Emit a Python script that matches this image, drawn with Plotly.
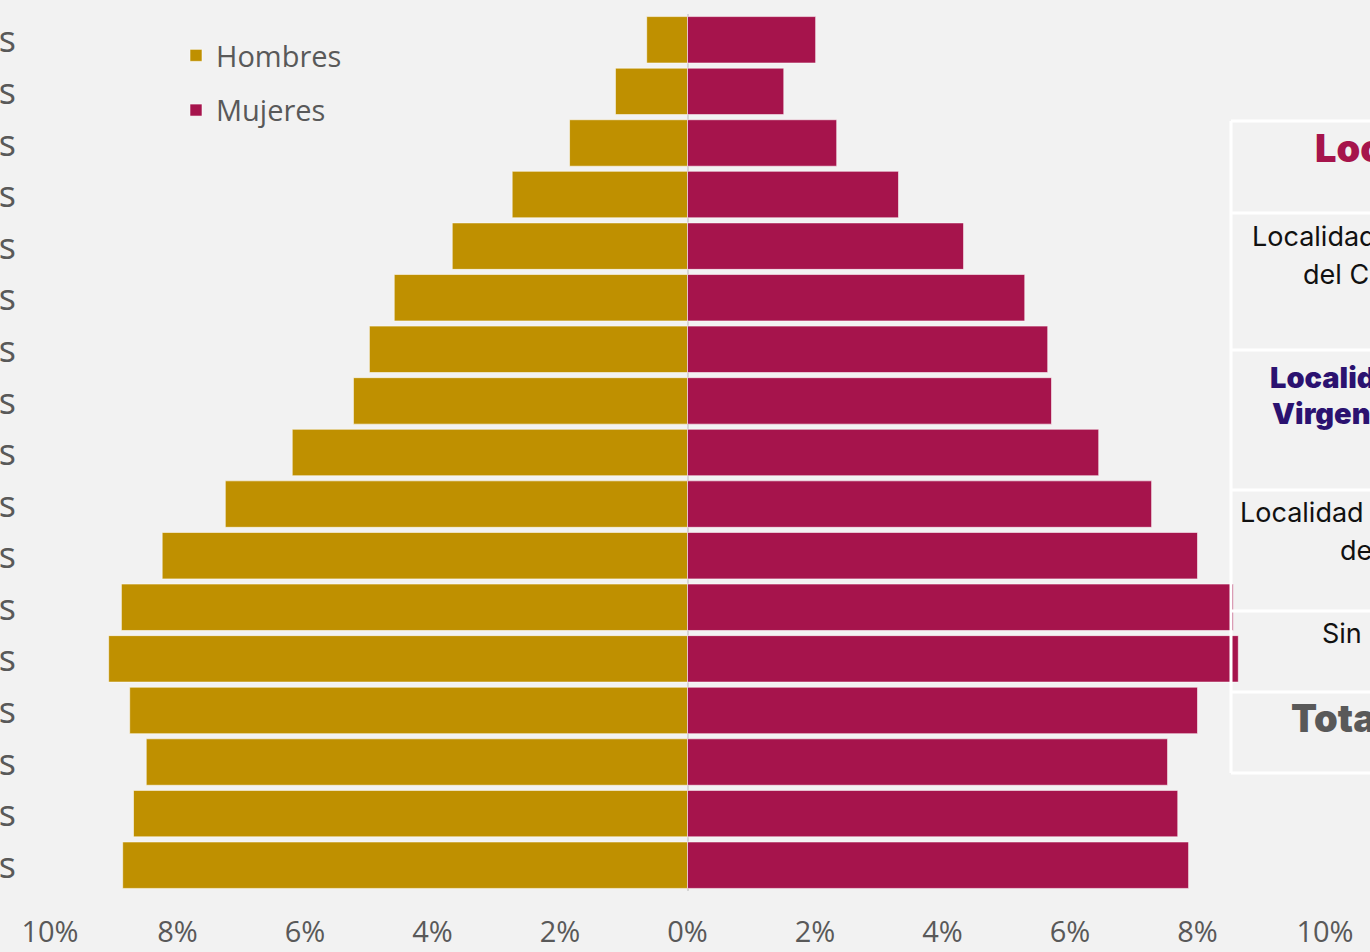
import plotly.graph_objects as go

# ---- data (bottom row = youngest) ----
edades = ["0 a 4 años", "5 a 9 años", "10 a 14 años", "15 a 19 años", "20 a 24 años",
          "25 a 29 años", "30 a 34 años", "35 a 39 años", "40 a 44 años", "45 a 49 años",
          "50 a 54 años", "55 a 59 años", "60 a 64 años", "65 a 69 años", "70 a 74 años",
          "75 a 79 años", "80 años y más"]
hombres = [8.86, 8.69, 8.49, 8.75, 9.08, 8.88, 8.24, 7.25, 6.20, 5.24, 4.99, 4.60,
           3.69, 2.75, 1.85, 1.13, 0.64]
mujeres = [7.86, 7.69, 7.53, 8.00, 8.64, 8.56, 8.00, 7.28, 6.45, 5.71, 5.65, 5.29,
           4.33, 3.31, 2.34, 1.51, 2.01]
tick_vals = [-10, -8, -6, -4, -2, 0, 2, 4, 6, 8, 10]
tick_text = ["10%", "8%", "6%", "4%", "2%", "0%", "2%", "4%", "6%", "8%", "10%"]

# table (partially visible, overlapping the right side): text lines and style
tabla_textos = ["Localidades",
                "Localidad urbana", "del Carmen",
                "Localidad de la", "Virgen de Guadalupe",
                "Localidad rural", "de Mayo",
                "Sin localidad",
                "Total"]
tabla_estilos = ["header", "normal", "normal", "bold", "bold", "normal", "normal", "normal", "total"]

W, H = 1370, 952
ML, MR, MT, MB = 50, 45, 14, 61
PW = W - ML - MR
PH = H - MT - MB

def px_x(p):
    return (p - ML) / PW

def px_y(p):
    return 1 - (p - MT) / PH

C_H = "#BF9000"
C_M = "#A6144C"
BG = "#F2F2F2"
GRAY = "#595959"

fig = go.Figure()
fig.add_trace(go.Bar(
    y=edades, x=[-v for v in hombres], orientation="h", name="Hombres",
    marker=dict(color=C_H, line=dict(color="rgba(255,255,255,0.55)", width=1)),
    legendgroup="h",
))
fig.add_trace(go.Bar(
    y=edades, x=mujeres, orientation="h", name="Mujeres",
    marker=dict(color=C_M, line=dict(color="rgba(255,255,255,0.55)", width=1)),
    legendgroup="m",
))

# table lines (pixel positions)
row_lines = [121, 213, 350, 490, 611, 692, 773]
shapes = [dict(type="line", xref="paper", yref="paper", x0=px_x(1231), x1=px_x(1380),
               y0=px_y(r), y1=px_y(r), line=dict(color="white", width=3), layer="above")
          for r in row_lines]
shapes.append(dict(type="line", xref="paper", yref="paper", x0=px_x(1231), x1=px_x(1231),
                   y0=px_y(121), y1=px_y(773), line=dict(color="white", width=3), layer="above"))

# table text positions (pixel, left edge / vertical middle)
text_pos = [(1313, 148), (1250, 237), (1301, 274), (1268, 377), (1270, 413),
            (1238, 512), (1338, 550), (1320, 633), (1289, 718)]
FF = "Inter, Lato, sans-serif"
styles = {
    "header": dict(color=C_M, size=38, weight=900, family=FF),
    "normal": dict(color="#111111", size=27, weight=400, family=FF),
    "bold": dict(color="#2B1270", size=29, weight=900, family=FF),
    "total": dict(color=GRAY, size=38, weight=900, family=FF),
}
annotations = []
for txt, st, (x, y) in zip(tabla_textos, tabla_estilos, text_pos):
    annotations.append(dict(
        xref="paper", yref="paper", x=px_x(x), y=px_y(y), xanchor="left", yanchor="middle",
        text=txt, showarrow=False, align="left", font=styles[st],
    ))

fig.update_layout(
    width=W, height=H,
    margin=dict(l=ML, r=MR, t=MT, b=MB, autoexpand=False),
    paper_bgcolor=BG, plot_bgcolor=BG,
    barmode="overlay", bargap=0.1,
    showlegend=True,
    legend=dict(x=px_x(176), y=px_y(30), xanchor="left", yanchor="top",
                font=dict(family="Open Sans", size=29, color=GRAY),
                bgcolor="rgba(0,0,0,0)", traceorder="grouped", tracegroupgap=14),
    xaxis=dict(range=[-10, 10], tickvals=tick_vals, ticktext=tick_text,
               showgrid=False, zeroline=True, zerolinecolor="#D6D6D6", zerolinewidth=2,
               tickfont=dict(family="Open Sans", size=29, color=GRAY),
               ticks="", ticklabelstandoff=21, automargin=False, fixedrange=True),
    yaxis=dict(type="category", showgrid=False, ticks="",
               tickfont=dict(family="Open Sans", size=36, color=GRAY),
               ticklabelstandoff=33, automargin=False),
    shapes=shapes,
    annotations=annotations,
)

fig.write_html("out.html", config={"displayModeBar": False},
               post_script="document.body.style.margin='0';document.body.style.overflow='hidden';")
